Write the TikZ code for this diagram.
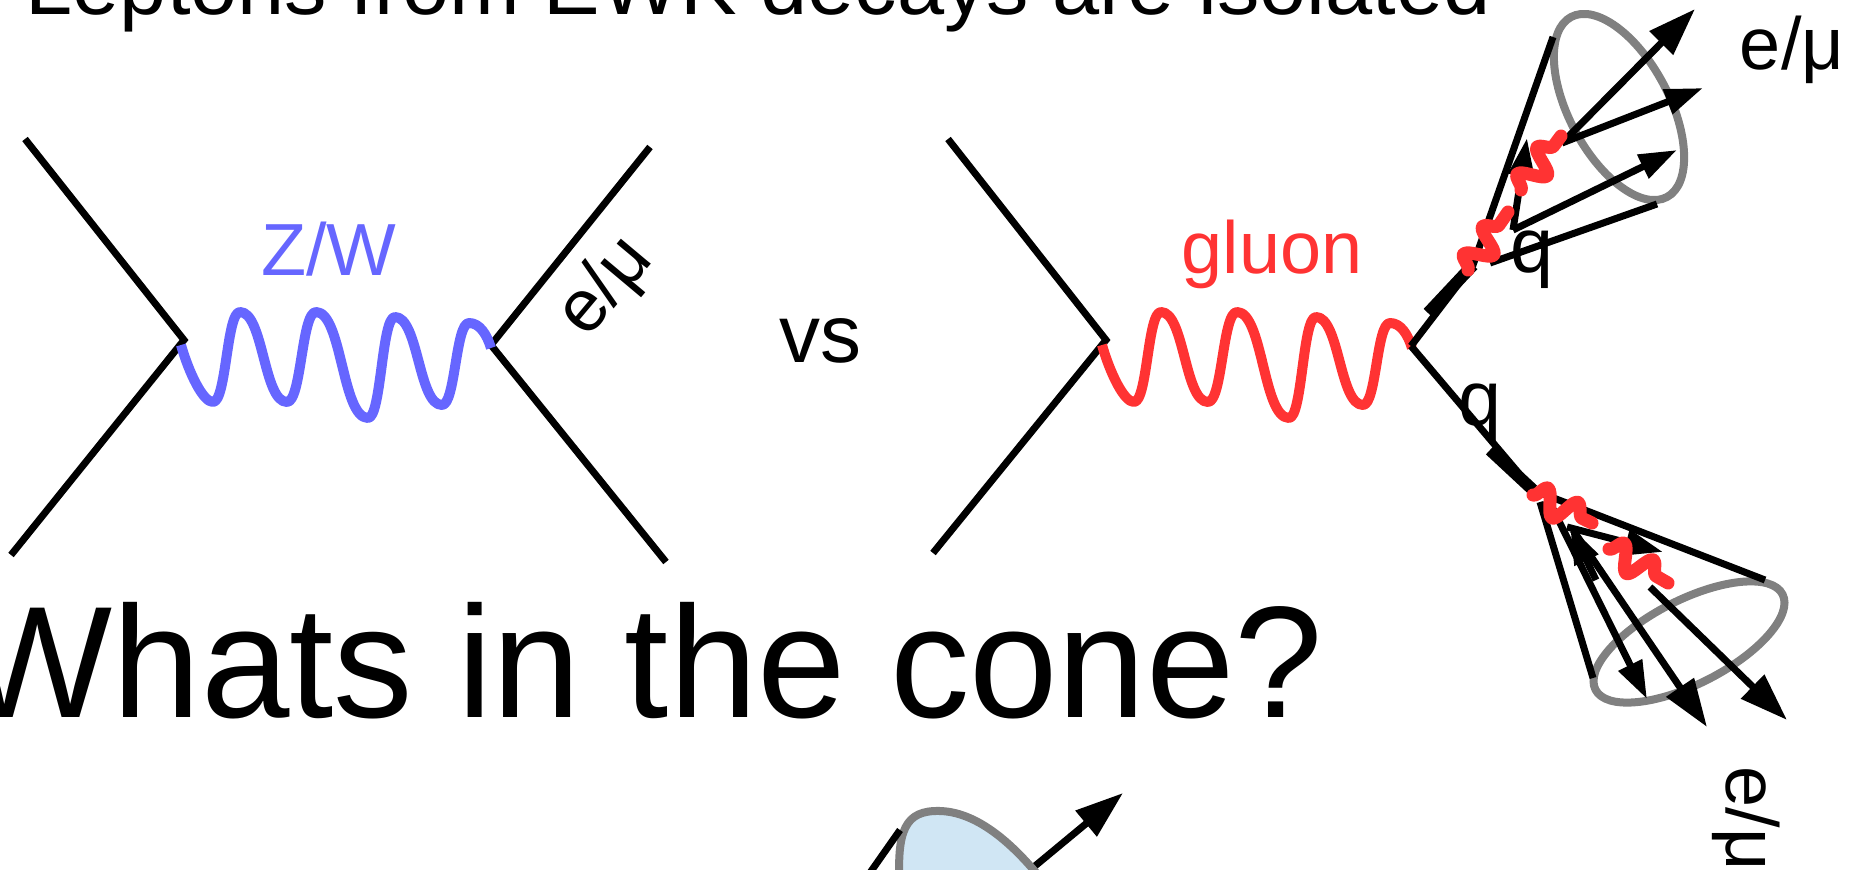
\documentclass[tikz,border=0pt]{standalone}
\usepackage{fontspec}
\setmainfont{Liberation Sans}
\usetikzlibrary{arrows.meta,decorations.pathmorphing}
\definecolor{zwblue}{HTML}{6666FF}
\definecolor{gluonred}{HTML}{FF3333}
\definecolor{conegray}{HTML}{808080}
\definecolor{blobblue}{HTML}{D0E6F4}

% one boson line, drawn from its left vertex at the local origin
\newcommand{\bosonline}{(0,0) .. controls (8,28) and (22,57) .. (32,57)
  .. controls (45.5,57) and (45.5,-33) .. (59,-33)
  .. controls (82.5,-33) and (82.5,57) .. (106,57)
  .. controls (120.5,57) and (120.5,-33) .. (135,-33)
  .. controls (161,-33) and (161,73) .. (187,73)
  .. controls (200.5,73) and (200.5,-28) .. (214,-28)
  .. controls (237.5,-28) and (237.5,60) .. (261,60)
  .. controls (274.5,60) and (274.5,-22) .. (288,-22)
  .. controls (299,-22) and (306,-10) .. (310,3)}

\begin{document}
\begin{tikzpicture}[x=0.01cm,y=-0.01cm,
  fermion/.style={line width=0.07cm},
  heavyseg/.style={line width=0.12cm},
  boson/.style={line width=0.1cm, line join=round},
  conering/.style={draw=conegray, line width=0.08cm},
  jetarrow/.style={line width=0.07cm, -{Triangle[length=0.38cm,width=0.25cm]}},
  bigarrow/.style={line width=0.07cm, -{Triangle[length=0.48cm,width=0.32cm]}},
  softgluon/.style={draw=gluonred, line width=0.13cm, line join=round, line cap=round, decorate,
    decoration={snake, amplitude=3.6pt, segment length=9.5pt}},
  lbl/.style={inner sep=0pt, font=\fontsize{21}{25}\selectfont},
  qlbl/.style={inner sep=0pt, font=\fontsize{22}{26}\selectfont}
]
\clip (0,0) rectangle (1860,870);

% headings
\node[inner sep=0pt, anchor=base west, font=\fontsize{24.1}{29}\selectfont] (title) at (25,15)
  {Leptons from EWK decays are isolated};
\node[inner sep=0pt, anchor=base east, font=\fontsize{45.2}{54}\selectfont] (question) at (1324,717)
  {Whats in the cone?};

% ---- electroweak exchange ----
\coordinate (a1) at (25,139);
\coordinate (a2) at (11,555);
\coordinate (va) at (184,340);
\coordinate (wa) at (181,345);
\coordinate (vb) at (491,345);
\coordinate (b1) at (650,147);
\coordinate (b2) at (666,562);
\draw[fermion] (a1) -- (va) -- (a2);
\draw[fermion] (b1) -- (vb) -- (b2);
\draw[boson, zwblue, shift={(wa)}] \bosonline;
\node[lbl, text=zwblue, anchor=base] (zw) at (329,275) {Z/W};
\node[lbl, rotate=50] (lepA) at (606,287) {e/μ};

\node[inner sep=0pt, anchor=base, font=\fontsize{23.3}{28}\selectfont] (vs) at (820,362) {vs};

% ---- gluon exchange ----
\coordinate (c1) at (948,139);
\coordinate (c2) at (933,553);
\coordinate (vc) at (1106,340);
\coordinate (wc) at (1102,345);
\coordinate (vd) at (1411,346);
\draw[fermion] (c1) -- (vc) -- (c2);
\draw[boson, gluonred, shift={(wc)}] \bosonline;
\node[lbl, text=gluonred, anchor=base] (gl) at (1272,274) {gluon};

% upper jet
\coordinate (pu) at (1473,265);
\coordinate (pu2) at (1513,230);
\coordinate (pu3) at (1562,143);
\coordinate (cuL) at (1553,37);
\coordinate (cuB0) at (1490,263);
\coordinate (cuB) at (1657,204);
\coordinate (hu0) at (1428,313);
\coordinate (ta1) at (1677,150);
\coordinate (ta2) at (1527,138);
\coordinate (ta3) at (1703,88);
\coordinate (ta4) at (1695,9);
\coordinate (gu1) at (1468,270);
\coordinate (gu2) at (1508,212);
\coordinate (gu3) at (1521,190);
\coordinate (gu4) at (1561,136);
\draw[conering, rotate around={-62:(1619,107)}] (1619,107) ellipse [x radius=102, y radius=50];
\draw[fermion] (vd) -- (pu) -- (cuL);
\draw[heavyseg] (hu0) -- (pu);
\draw[fermion] (cuB0) -- (cuB);
\draw[jetarrow] (pu2) -- (ta1);
\draw[jetarrow] (pu2) -- (ta2);
\draw[jetarrow] (pu3) -- (ta3);
\draw[bigarrow] (pu3) -- (ta4);
\draw[softgluon] (gu1) -- (gu2);
\draw[softgluon] (gu3) -- (gu4);
\node[qlbl, anchor=base] (qu) at (1532,273) {q};
\node[lbl, anchor=base] (lepB) at (1792,70) {e/μ};

% lower jet
\coordinate (pl) at (1533,490);
\coordinate (hl0) at (1490,450);
\coordinate (clU) at (1765,580);
\coordinate (clL0) at (1540,502);
\coordinate (clL) at (1593,678);
\coordinate (s1) at (1553,509);
\coordinate (s2) at (1573,530);
\coordinate (s3) at (1650,587);
\coordinate (s4) at (1567,527);
\coordinate (s5) at (1596,580);
\coordinate (tb1) at (1647,699);
\coordinate (tb2) at (1707,727);
\coordinate (tb3) at (1787,720);
\coordinate (tb4) at (1663,552);
\coordinate (tb5) at (1570,526);
\coordinate (gl1) at (1533,495);
\coordinate (gl2) at (1592,523);
\coordinate (gl3) at (1609,549);
\coordinate (gl4) at (1668,583);
\draw[conering, rotate around={27:(1689,642)}] (1689,642) ellipse [x radius=105, y radius=42];
\draw[fermion] (vd) -- (pl) -- (clU);
\draw[heavyseg] (hl0) -- (pl);
\draw[fermion] (clL0) -- (clL);
\draw[jetarrow] (s1) -- (tb1);
\draw[bigarrow] (s2) -- (tb2);
\draw[bigarrow] (s3) -- (tb3);
\draw[jetarrow] (s4) -- (tb4);
\draw[jetarrow] (s5) -- (tb5);
\draw[softgluon] (gl1) -- (gl2);
\draw[softgluon] (gl3) -- (gl4);
\node[qlbl, anchor=base] (ql) at (1480,425) {q};
\node[lbl, rotate=-90, anchor=base west] (lepC) at (1726,766) {e/μ};

% partly visible isolation cone at the bottom
\coordinate (e0) at (1000,895);
\coordinate (e1) at (1123,793);
\coordinate (f0) at (860,887);
\coordinate (f1) at (900,830);
\draw[bigarrow] (e0) -- (e1);
\draw[conering, fill=blobblue] (900,890) .. controls (896,830) and (905,810) .. (940,811)
  .. controls (975,812) and (1010,840) .. (1042,880) -- (1042,900) -- (900,900) -- cycle;
\draw[fermion] (f0) -- (f1);
\end{tikzpicture}
\end{document}
